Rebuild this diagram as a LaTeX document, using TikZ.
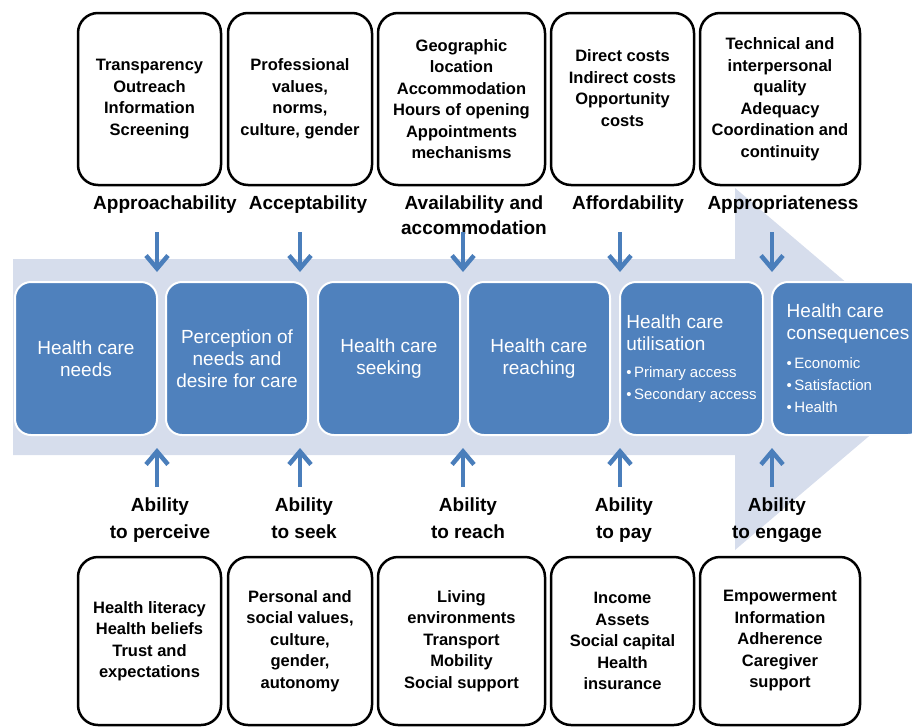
\documentclass[tikz,border=0pt]{standalone}
\usepackage{fontspec}
\setmainfont{Liberation Sans}
\usetikzlibrary{arrows.meta}

\begin{document}
\begin{tikzpicture}[x=1pt,y=-1pt,
    wbox/.style={draw,line width=2.5pt,rounded corners=20pt,align=center,minimum height=172pt,font=\bfseries\fontsize{16.5}{21.5}\selectfont},
    fbox/.style={wbox,minimum height=168pt},
    step box/.style={draw=white,line width=2pt,rounded corners=16pt,fill=boxblue,text=white,align=center,minimum width=142pt,minimum height=153pt,font=\fontsize{19}{22}\selectfont},
    lab/.style={anchor=north,inner sep=0pt,align=center,font=\bfseries\fontsize{19}{25}\selectfont},
    ablab/.style={lab,font=\bfseries\fontsize{19}{27}\selectfont},
    arr/.style={arrowblue,line width=4.5pt,-{Straight Barb[length=13pt,width=22pt]}}]
    \definecolor{boxblue}{HTML}{4F81BD}
    \definecolor{bandblue}{HTML}{D6DDEC}
    \definecolor{arrowblue}{HTML}{4A7EBB}
    \useasboundingbox (0,0) rectangle (912,726);
    \clip (0,0) rectangle (912,726);
    % the big arrow behind the steps
    \fill[bandblue] (13,259) -- (735,259) -- (735,188) -- (948,369) -- (735,550) -- (735,455) -- (13,455) -- cycle;
    % steps
    \node[step box] (s1) at (86,358.5) {Health care\\needs};
    \node[step box] (s2) at (237,358.5) {Perception of\\needs and\\desire for care};
    \node[step box] (s3) at (389,358.5) {Health care\\seeking};
    \node[step box] (s4) at (539,358.5) {Health care\\reaching};
    \node[step box,align=left,minimum width=143pt] (s5) at (691.5,358.5) {Health care\\utilisation\\[5pt]
        \fontsize{15}{22}\selectfont •\,Primary access\\\fontsize{15}{22}\selectfont •\,Secondary access};
    \node[step box,align=left,minimum width=152pt] (s6) at (848,358.5) {Health care\\consequences\\[7pt]
        \fontsize{15}{22}\selectfont •\,Economic\\\fontsize{15}{22}\selectfont •\,Satisfaction\\\fontsize{15}{22}\selectfont •\,Health};
    % supply side
    \node[wbox,minimum width=143pt] (t1) at (149.5,99) {Transparency\\Outreach\\Information\\Screening};
    \node[wbox,minimum width=144pt] (t2) at (300,99) {Professional\\values,\\norms,\\culture, gender};
    \node[wbox,minimum width=167pt] (t3) at (461.5,99) {Geographic\\location\\Accommodation\\Hours of opening\\Appointments\\mechanisms};
    \node[wbox,minimum width=143pt] (t4) at (622.5,99) {Direct costs\\Indirect costs\\Opportunity\\costs\\~};
    \node[wbox,minimum width=160pt] (t5) at (780,99) {Technical and\\interpersonal\\quality\\Adequacy\\Coordination and\\continuity};
    \node[lab] (l1) at (165,196) {Approachability};
    \node[lab] (l2) at (308,196) {Acceptability};
    \node[lab] (l3) at (474,196) {Availability and\\accommodation};
    \node[lab] (l4) at (628,196) {Affordability};
    \node[lab] (l5) at (783,196) {Appropriateness};
    % demand side
    \node[ablab] (m1) at (160,498) {Ability\\to perceive};
    \node[ablab] (m2) at (304,498) {Ability\\to seek};
    \node[ablab] (m3) at (468,498) {Ability\\to reach};
    \node[ablab] (m4) at (624,498) {Ability\\to pay};
    \node[ablab] (m5) at (777,498) {Ability\\to engage};
    \node[fbox,minimum width=143pt] (f1) at (149.5,641) {Health literacy\\Health beliefs\\Trust and\\expectations};
    \node[fbox,minimum width=144pt] (f2) at (300,641) {Personal and\\social values,\\culture,\\gender,\\autonomy};
    \node[fbox,minimum width=167pt] (f3) at (461.5,641) {Living\\environments\\Transport\\Mobility\\Social support};
    \node[fbox,minimum width=143pt] (f4) at (622.5,641) {Income\\Assets\\Social capital\\Health\\insurance};
    \node[fbox,minimum width=160pt] (f5) at (780,641) {Empowerment\\Information\\Adherence\\Caregiver\\support};
    % arrows
    \foreach \x [count=\i] in {157,300,463,620,772} {
      \path (\x,232) coordinate (d\i) (\x,272) coordinate (e\i)
            (\x,487) coordinate (u\i) (\x,448) coordinate (v\i);
      \draw[arr] (d\i) -- (e\i);
      \draw[arr] (u\i) -- (v\i);
    }
\end{tikzpicture}
\end{document}
